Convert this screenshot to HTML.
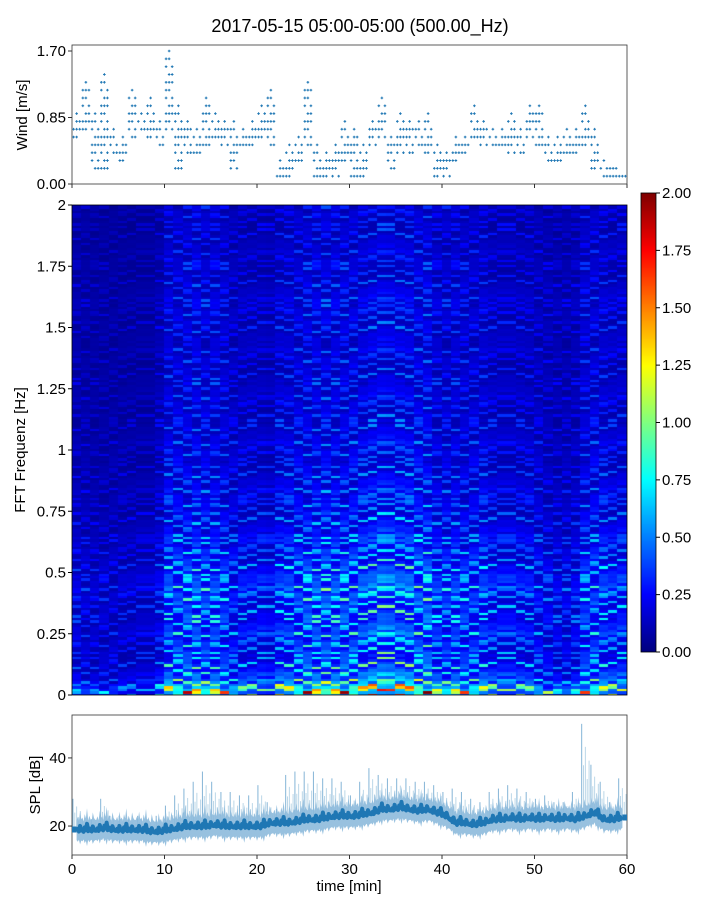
<!DOCTYPE html>
<html><head><meta charset="utf-8">
<style>
html,body{margin:0;padding:0;background:#fff;}
#root{position:relative;width:720px;height:900px;overflow:hidden;font-family:"Liberation Sans","DejaVu Sans",sans-serif;}
svg{position:absolute;left:0;top:0;}
canvas{position:absolute;}
</style></head>
<body>
<div id="root">
<canvas id="spec" width="555" height="490" style="left:72px;top:205px"></canvas>
<canvas id="cbar" width="15" height="459" style="left:641px;top:193px"></canvas>
<svg id="svg" width="720" height="900"></svg>
</div>
<script>
// ---- data ----
const windMin=[0.6,0.7,0.2,0.2,0.4,0.3,0.6,0.7,0.6,0.5,0.7,0.2,0.4,0.4,0.5,0.6,0.5,0.2,0.5,0.5,0.6,0.5,0.1,0.1,0.3,0.5,0.1,0.1,0.1,0.3,0.1,0.1,0.5,0.6,0.2,0.4,0.4,0.5,0.4,0.1,0.1,0.3,0.4,0.6,0.5,0.5,0.5,0.4,0.4,0.6,0.5,0.3,0.3,0.4,0.4,0.5,0.2,0.1,0.1,0.1];
const windMax=[0.9,1.3,0.9,1.4,0.7,0.6,1.2,0.9,1.1,0.8,1.7,1.0,0.8,0.7,1.1,0.9,0.8,0.8,0.7,0.8,1.0,1.2,0.3,0.5,0.6,1.3,0.5,0.4,0.5,0.8,0.7,0.5,0.8,1.1,0.6,0.9,0.8,0.8,0.9,0.5,0.4,0.6,0.6,1.0,0.8,0.7,0.7,0.9,0.7,1.0,1.0,0.6,0.6,0.7,0.7,1.0,0.7,0.3,0.2,0.1];
const splMean=[19,19,19,19.5,19,19,19,19,18.5,18.5,19,19.5,20,20,20,20.5,20,20,20,20,20,21,21,21,21.5,22,22,22.5,23,23,23,23.5,24,25,25,25.5,25,24.5,25,24,23,21,21,20.5,21,22,22,22.5,22,22.5,22,22.5,22,22.5,22,23,24,22,22,22.5];
const splPeak=[28,22,22,28,23,23,22,23,22,23,26,29,31,33,36,33,30,30,29,29,32,27,25,35,36,36,36,34,34,33,29,33,37,35,34,34,34,33,33,32,30,31,30,28,27,30,31,32,31,30,28,29,27,27,30,50,38,33,27,34];
const colBase=[0.6,0.55,0.5,0.5,0.5,0.5,0.5,0.5,0.5,0.7,1.2,1.2,1.25,1.3,1.2,1.2,1.1,0.9,0.9,0.9,0.85,0.8,1.1,1.15,1.2,1.3,1.3,1.35,1.3,1.3,1.3,1.3,1.4,1.45,1.4,1.4,1.4,1.35,1.4,1.1,1.1,1.15,1.1,1.1,1.1,0.95,0.9,0.9,0.9,0.9,0.85,0.75,0.7,0.7,0.75,1.1,1.15,1.1,1.0,1.0];
const freqProfile=[0.75,0.45,0.38,0.36,0.34,0.36,0.34,0.36,0.38,0.38,0.34,0.31,0.28,0.26,0.25,0.24,0.23,0.22,0.21,0.2,0.2,0.19,0.19,0.18,0.18,0.18,0.17,0.17,0.17,0.17,0.18,0.18,0.18,0.17,0.16,0.16,0.15,0.15,0.15,0.15];
const streak=[0.6,1.0,0.5,1.6,0.7,0.9,0.45,1.3,0.8,2.0,0.55,1.1,0.7,0.5,1.5,0.85,0.65];
const xTicks=[0,10,20,30,40,50,60];
const windTicks=["0.00","0.85","1.70"];
const freqTicks=["0","0.25","0.5","0.75","1","1.25","1.5","1.75","2"];
const cbarTicks=["0.00","0.25","0.50","0.75","1.00","1.25","1.50","1.75","2.00"];
const splTicks=[20,40];

const NS="http://www.w3.org/2000/svg";
const svg=document.getElementById('svg');
function el(tag,attrs,parent){const e=document.createElementNS(NS,tag);for(const k in attrs)e.setAttribute(k,attrs[k]);(parent||svg).appendChild(e);return e;}
function txt(s,attrs,name){const t=el('text',Object.assign({'font-size':15,fill:'#000'},attrs));t.textContent=s;


return t;}

const X0=72,X1=627;
const xs=m=>X0+(X1-X0)*m/60;
const wy=v=>184-v*(184-51)/1.70;
const fy=f=>695-f*(695-205)/2;
const sy=v=>855-(v-11.5)*(855-715)/(52.6-11.5);
const cy=v=>652-v*(652-193)/2;

function jet(v){v=Math.max(0,Math.min(1,v));
const r=Math.max(0,Math.min(1,1.5-Math.abs(4*v-3)));
const g=Math.max(0,Math.min(1,1.5-Math.abs(4*v-2)));
const b=Math.max(0,Math.min(1,1.5-Math.abs(4*v-1)));
return `rgb(${Math.round(r*255)},${Math.round(g*255)},${Math.round(b*255)})`;}

txt("2017-05-15 05:00-05:00 (500.00_Hz)",{x:360,y:32,'text-anchor':'middle','font-size':18},'chart-title');

// ---- spectrogram ----
const sc=document.getElementById('spec').getContext('2d');
const nRows=200;
for(let t=0;t<colBase.length;t++){
  const x=(xs(t)-X0),w=xs(t+1)-xs(t);
  for(let r=0;r<nRows;r++){
    const f=(r+0.5)*2/nRows;
    const fb=Math.min(freqProfile.length-1,Math.floor(f/0.05));
    const v=colBase[t]*freqProfile[fb]*streak[(r*7+(r>>4)*3+(t*t*5+t*3)%13)%streak.length];
    sc.fillStyle=jet(v/2);
    const y0=fy((r+1)*2/nRows)-205,y1=fy(r*2/nRows)-205;
    sc.fillRect(Math.floor(x),Math.floor(y0),Math.ceil(w)+1,Math.ceil(y1-y0)+1);
  }
}
const cc=document.getElementById('cbar').getContext('2d');
for(let i=0;i<459;i++){cc.fillStyle=jet(1-i/458);cc.fillRect(0,i,15,1);}
el('rect',{x:641,y:193,width:15,height:459,fill:'none',stroke:'#000','stroke-width':0.8,});
cbarTicks.forEach(s=>{const v=parseFloat(s);el('line',{x1:656,x2:660,y1:cy(v),y2:cy(v),stroke:'#000'});txt(s,{x:662,y:cy(v)+5},'colorbar-tick-label');});
el('rect',{x:72,y:205,width:555,height:490,fill:'none',stroke:'#000','stroke-width':0.8,});
freqTicks.forEach(s=>{const v=parseFloat(s);el('line',{x1:68,x2:72,y1:fy(v),y2:fy(v),stroke:'#000'});txt(s,{x:66,y:fy(v)+5,'text-anchor':'end'},'freq-tick-label');});
txt("FFT Frequenz [Hz]",{x:0,y:0,transform:'translate(25,450) rotate(-90)','text-anchor':'middle'},'freq-axis-title');

// ---- wind panel ----
el('rect',{x:72,y:45,width:555,height:139,fill:'#fff',stroke:'#333','stroke-width':0.8,});
const wg=el('g',{stroke:'#1f77b4','stroke-width':1});


for(let m=0;m<windMin.length;m++){
  for(let k=0;k<3;k++){
    const x=xs(m+0.17+k*0.33);
    const lo=Math.round(windMin[m]*10),hi=Math.round(windMax[m]*10);
    for(let l=lo;l<=hi;l++){
      if((l*3+k+m)%4===0 && l!==hi) continue;
      if(l===hi && k!==1 && hi-lo>1) continue;
      const y=wy(l/10);
      el('path',{d:`M${x-1.3},${y}h2.6M${x},${y-1.3}v2.6`},wg);
    }
  }
}
windTicks.forEach(s=>{const v=parseFloat(s);el('line',{x1:68,x2:72,y1:wy(v),y2:wy(v),stroke:'#333'});txt(s,{x:66,y:wy(v)+5,'text-anchor':'end'},'wind-tick-label');});
xTicks.forEach(v=>el('line',{x1:xs(v),x2:xs(v),y1:184,y2:188,stroke:'#333'}));
txt("Wind [m/s]",{x:0,y:0,transform:'translate(27,115) rotate(-90)','text-anchor':'middle'},'wind-axis-title');

// ---- SPL panel ----
el('rect',{x:72,y:715,width:555,height:140,fill:'#fff',stroke:'#333','stroke-width':0.8,});
const sg=el('g',{});


for(let m=0;m<splPeak.length;m++){
  for(let k=0;k<5;k++){
    const x=xs(m+0.1+k*0.2);
    const h=splMean[m]+(splPeak[m]-splMean[m])*[1,0.55,0.75,0.4,0.6][k];
    el('line',{x1:x,x2:x,y1:sy(splMean[m]),y2:sy(h),stroke:'#1f77b4','stroke-width':1,'stroke-opacity':k===0?0.55:0.3},sg);
  }
}
let up='',dn='',mid='';
const N=splMean.length,S=8;
for(let i=0;i<=(N-1)*S;i++){
  const m=i/S,a=Math.floor(m),b=Math.min(N-1,a+1),fr=m-a;
  const v=splMean[a]*(1-fr)+splMean[b]*fr;
  const j=(streak[i%streak.length]-0.9)*2.5;
  const x=xs(m+0.5);
  up+=(i?'L':'M')+x.toFixed(1)+','+sy(v+3.5+j).toFixed(1);
  dn=' L'+x.toFixed(1)+','+sy(v-3.5-j*0.5).toFixed(1)+dn;
  mid+=(i?'L':'M')+x.toFixed(1)+','+sy(v+j*0.6).toFixed(1);
}
el('path',{d:up+dn+'Z',fill:'#8dbadc','fill-opacity':0.9},sg);
el('path',{d:mid,fill:'none',stroke:'#1f77b4','stroke-width':4,'stroke-linejoin':'round'},sg);
el('path',{d:`M${X0},${sy(splMean[0])}L${xs(0.5)},${sy(splMean[0])}M${xs(59.5)},${sy(splMean[59])}L${X1},${sy(splMean[59])}`,fill:'none',stroke:'#1f77b4','stroke-width':6},sg);
splTicks.forEach(v=>{el('line',{x1:68,x2:72,y1:sy(v),y2:sy(v),stroke:'#333'});txt(String(v),{x:66,y:sy(v)+5,'text-anchor':'end'},'spl-tick-label');});
xTicks.forEach(v=>{el('line',{x1:xs(v),x2:xs(v),y1:855,y2:859,stroke:'#333'});txt(String(v),{x:xs(v),y:874,'text-anchor':'middle'},'time-tick-label');});
txt("SPL [dB]",{x:0,y:0,transform:'translate(40,785) rotate(-90)','text-anchor':'middle'},'spl-axis-title');
txt("time [min]",{x:349,y:891,'text-anchor':'middle'},'time-axis-title');
</script>
</body></html>
